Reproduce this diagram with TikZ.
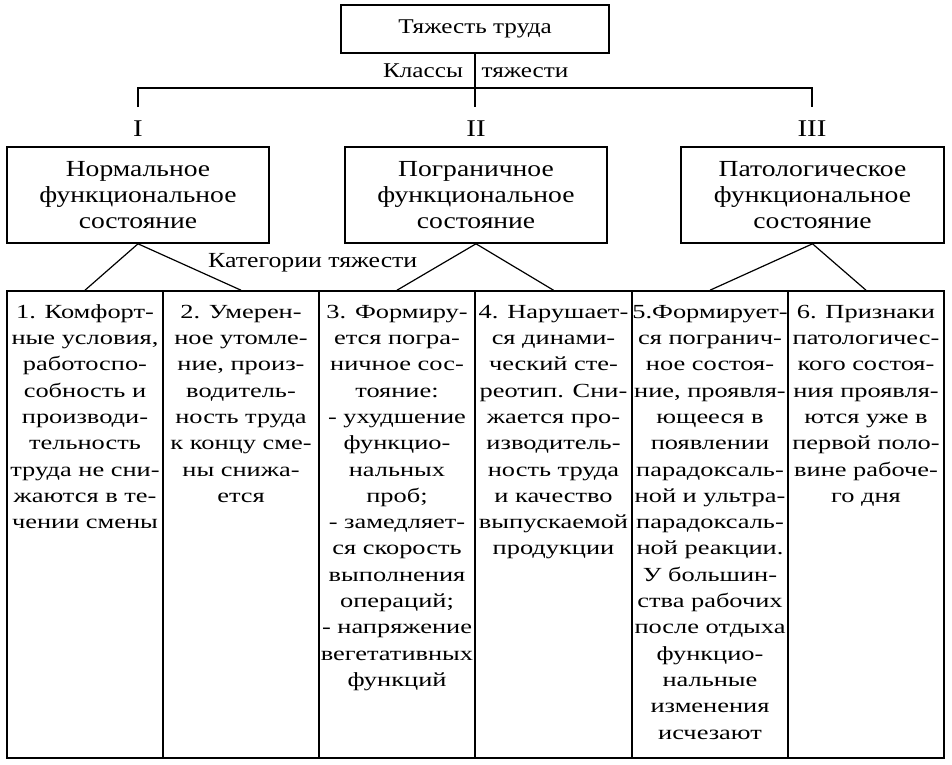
\documentclass[tikz,border=0pt]{standalone}
\usepackage{fontspec}
\setmainfont{Liberation Serif}[FakeStretch=1.2]
\newfontfamily\tabfont{Liberation Serif}[FakeStretch=1.32]
\newcommand{\fl}{\rule{0pt}{15pt}}
\begin{document}
\begin{tikzpicture}[x=1pt,y=-1pt,
  box/.style={draw, line width=1.6pt, inner sep=0pt, align=center},
  cell/.style={draw, line width=1.6pt, inner sep=0pt, minimum width=156, minimum height=467},
  conn/.style={line width=1.2pt},
  txt/.style={inner sep=0pt, align=center, anchor=north, font=\tabfont\fontsize{20}{26.3}\selectfont},
  cls/.style={font=\fontsize{23}{26}\selectfont},
  lbl/.style={inner sep=0pt, font=\fontsize{21}{24}\selectfont},
  rom/.style={inner sep=0pt, font=\fontsize{24}{26}\selectfont}]
\useasboundingbox (0,0) rectangle (952,764);

% top
\node[box, minimum width=268, minimum height=48, font=\fontsize{21}{24}\selectfont] (top) at (475,29) {Тяжесть труда};
\node[lbl, anchor=base] (kl1) at (423,77) {Классы};
\node[lbl, anchor=base] (kl2) at (525,77) {тяжести};

\coordinate (dI) at (138,107);
\coordinate (dII) at (475,107);
\coordinate (dIII) at (812,107);
\coordinate (bI) at (138,88);
\coordinate (bIII) at (812,88);
\draw[conn] (top.south) -- (dII);
\draw[conn] (dI) -- (bI) -- (bIII) -- (dIII);

\node[rom, anchor=base] (rI) at (138,136) {I};
\node[rom, anchor=base] (rII) at (476,136) {II};
\node[rom, anchor=base] (rIII) at (812,136) {III};

% class boxes
\node[box, cls, minimum width=262, minimum height=96] (k1) at (138,195) {Нормальное\\функциональное\\состояние};
\node[box, cls, minimum width=262, minimum height=96] (k2) at (476,195) {Пограничное\\функциональное\\состояние};
\node[box, cls, minimum width=263, minimum height=96] (k3) at (812.5,195) {Патологическое\\функциональное\\состояние};

\node[lbl, anchor=base west, font=\fontsize{21.5}{24}\selectfont] (kat) at (208,267) {Категории тяжести};

% table cells
\node[cell] (c1) at (85,524.5) {};
\node[cell] (c2) at (241,524.5) {};
\node[cell] (c3) at (397,524.5) {};
\node[cell] (c4) at (553.5,524.5) {};
\node[cell] (c5) at (710,524.5) {};
\node[cell] (c6) at (866,524.5) {};

\draw[conn] (c1.north) -- (k1.south) -- (c2.north);
\draw[conn] (c3.north) -- (k2.south) -- (c4.north);
\draw[conn] (c5.north) -- (k3.south) -- (c6.north);

\node[txt] (t1) at (85,303) {\fl1. Комфорт-\\ные условия,\\работоспо-\\собность и\\производи-\\тельность\\труда не сни-\\жаются в те-\\чении смены};
\node[txt] (t2) at (241,303) {\fl2. Умерен-\\ное утомле-\\ние, произ-\\водитель-\\ность труда\\к концу сме-\\ны снижа-\\ется};
\node[txt] (t3) at (397,303) {\fl3. Формиру-\\ется погра-\\ничное сос-\\тояние:\\- ухудшение\\функцио-\\нальных\\проб;\\- замедляет-\\ся скорость\\выполнения\\операций;\\- напряжение\\вегетативных\\функций};
\node[txt] (t4) at (553.5,303) {\fl4. Нарушает-\\ся динами-\\ческий сте-\\реотип. Сни-\\жается про-\\изводитель-\\ность труда\\и качество\\выпускаемой\\продукции};
\node[txt] (t5) at (710,303) {\fl5.Формирует-\\ся погранич-\\ное состоя-\\ние, проявля-\\ющееся в\\появлении\\парадоксаль-\\ной и ультра-\\парадоксаль-\\ной реакции.\\У большин-\\ства рабочих\\после отдыха\\функцио-\\нальные\\изменения\\исчезают};
\node[txt] (t6) at (866,303) {\fl6. Признаки\\патологичес-\\кого состоя-\\ния проявля-\\ются уже в\\первой поло-\\вине рабоче-\\го дня};
\end{tikzpicture}
\end{document}
